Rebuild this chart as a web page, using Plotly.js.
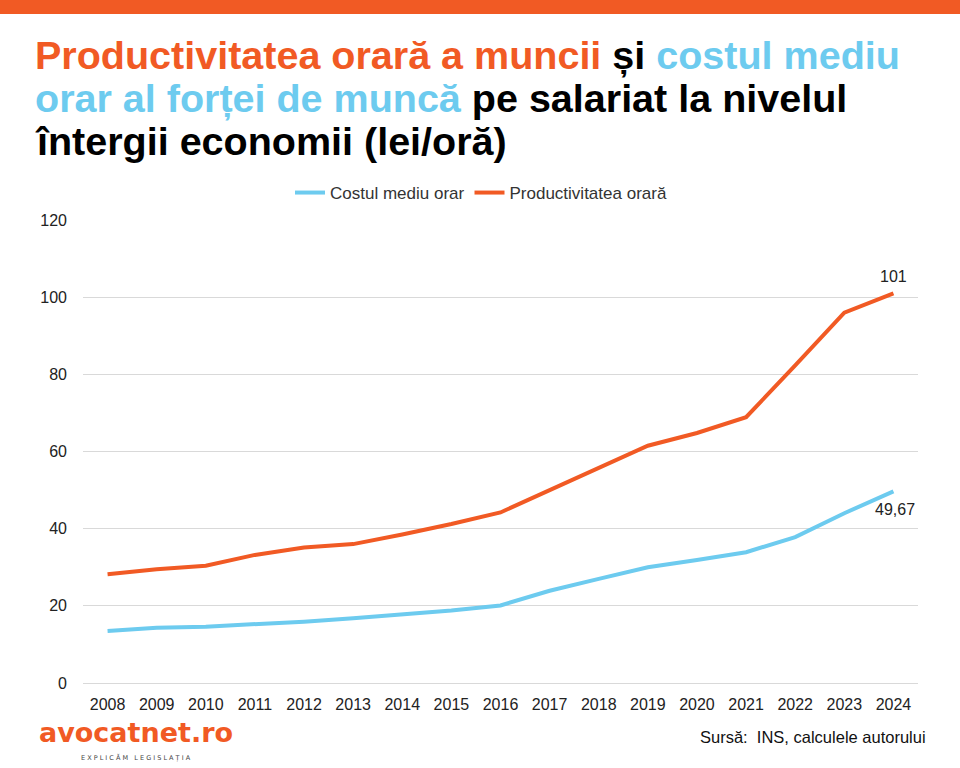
<!DOCTYPE html>
<html>
<head>
<meta charset="utf-8">
<script src="https://cdn.plot.ly/plotly-3.0.1.min.js"></script>
<style>
  html, body { margin: 0; padding: 0; background: #ffffff; }
  #chart { width: 960px; height: 768px; }
</style>
</head>
<body>
<div id="chart"></div>
<script>
const years = ["2008","2009","2010","2011","2012","2013","2014","2015","2016","2017","2018","2019","2020","2021","2022","2023","2024"];
const costulMediuOrar = [13.5, 14.3, 14.6, 15.2, 15.9, 16.8, 17.8, 18.8, 20.1, 23.9, 27.0, 30.0, 31.9, 33.9, 37.8, 44.0, 49.67];
const productivitateaOrara = [28.2, 29.5, 30.4, 33.2, 35.1, 36.0, 38.5, 41.2, 44.2, 49.9, 55.7, 61.5, 64.8, 68.9, 82.3, 96.0, 101];
const seriesNames = ["Costul mediu orar", "Productivitatea orară"];
const lastLabels = ["49,67", "101"];

const ORANGE = "#F15A24";
const BLUE = "#6DCBEF";
const FONT = "Liberation Sans, Arial, sans-serif";

const traces = [
  {
    x: years, y: costulMediuOrar, name: seriesNames[0], type: "scatter", mode: "lines",
    line: { color: BLUE, width: 4 }, hoverinfo: "skip"
  },
  {
    x: years, y: productivitateaOrara, name: seriesNames[1], type: "scatter", mode: "lines",
    line: { color: ORANGE, width: 4 }, hoverinfo: "skip"
  }
];

// paper y for a pixel row (plot area: top 220, bottom 683)
const py = p => (683 - p) / 463;
const px = p => (p - 83) / 835;

const n = years.length - 1; // index of the last category on the category axis
const titleFont = { family: FONT, size: 39.5, color: "#000" };
const layout = {
  width: 960, height: 768,
  paper_bgcolor: "#fff", plot_bgcolor: "#fff",
  margin: { l: 83, r: 42, t: 220, b: 85 },
  showlegend: true,
  legend: {
    orientation: "h", x: px(481), xanchor: "center", y: py(193), yanchor: "middle",
    itemwidth: 30,
    font: { family: FONT, size: 17, color: "#333" }
  },
  xaxis: {
    type: "category", range: [-0.5, 16.5],
    showgrid: false, showline: false, zeroline: false, ticks: "",
    ticklabelstandoff: 10,
    tickfont: { family: FONT, size: 16, color: "#222" }
  },
  yaxis: {
    range: [0, 120], dtick: 20, tick0: 0,
    showgrid: true, gridcolor: "#d9d9d9", gridwidth: 1,
    zeroline: true, zerolinecolor: "#d9d9d9", zerolinewidth: 1,
    showline: false, ticks: "",
    ticklabelstandoff: 15,
    tickfont: { family: FONT, size: 16, color: "#222" }
  },
  shapes: [
    { type: "rect", xref: "paper", yref: "paper", x0: px(0), x1: px(960), y0: py(14), y1: py(0),
      fillcolor: ORANGE, line: { width: 0 }, layer: "above" }
  ],
  annotations: [
    { x: n, y: productivitateaOrara[n], xref: "x", yref: "y", showarrow: false,
      yanchor: "bottom", yshift: 6, font: { family: FONT, size: 16, color: "#222" }, text: lastLabels[1] },
    { x: n, y: costulMediuOrar[n], xref: "x", yref: "y", showarrow: false,
      yanchor: "top", yshift: -8, xshift: 2, font: { family: FONT, size: 16, color: "#222" }, text: lastLabels[0] },
    { xref: "paper", yref: "paper", x: px(33), y: py(55), xanchor: "left", yanchor: "middle", showarrow: false, align: "left",
      font: titleFont,
      text: "<b><span style='color:" + ORANGE + "'>Productivitatea orară a muncii</span> și <span style='color:" + BLUE + "'>costul mediu</span></b>" },
    { xref: "paper", yref: "paper", x: px(33), y: py(98), xanchor: "left", yanchor: "middle", showarrow: false, align: "left",
      font: titleFont,
      text: "<b><span style='color:" + BLUE + "'>orar al forței de muncă</span> pe salariat la nivelul</b>" },
    { xref: "paper", yref: "paper", x: px(33), y: py(141), xanchor: "left", yanchor: "middle", showarrow: false, align: "left",
      font: titleFont,
      text: "<b>întergii economii (lei/oră)</b>" },
    { xref: "paper", yref: "paper", x: px(37), y: py(732), xanchor: "left", yanchor: "middle", showarrow: false,
      font: { family: "DejaVu Sans, sans-serif", size: 27, color: ORANGE },
      text: "<b>avocatnet.ro</b>" },
    { xref: "paper", yref: "paper", x: px(136), y: py(757), xanchor: "center", yanchor: "middle", showarrow: false,
      font: { family: "DejaVu Sans, sans-serif", size: 6.5, color: "#444" },
      text: "E X P L I C Ă M   L E G I S L A Ț I A" },
    { xref: "paper", yref: "paper", x: px(928), y: py(737), xanchor: "right", yanchor: "middle", showarrow: false,
      font: { family: FONT, size: 16.5, color: "#111" },
      text: "Sursă:  INS, calculele autorului" }
  ]
};

Plotly.newPlot("chart", traces, layout, { displayModeBar: false, staticPlot: true });
</script>
</body>
</html>
